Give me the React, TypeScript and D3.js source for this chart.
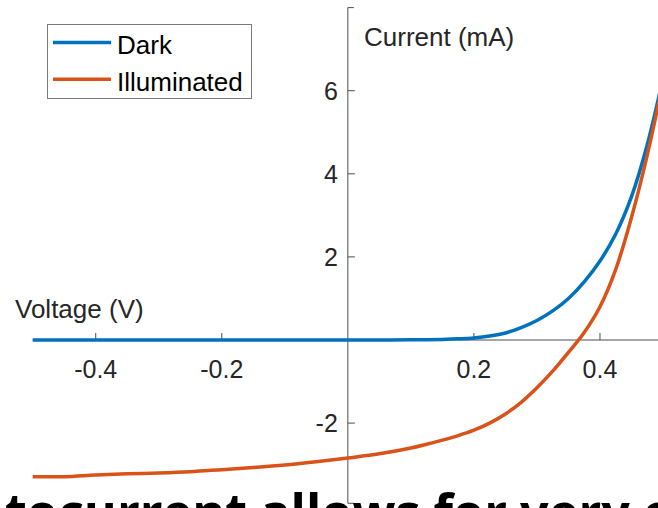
import { useEffect, useRef } from 'react'
import * as d3 from 'd3'

// voltage samples (V)
const voltage = [-0.5, -0.45, -0.4, -0.35, -0.3, -0.25, -0.2, -0.15, -0.1, -0.05, 0, 0.05, 0.1, 0.125, 0.15, 0.175, 0.2, 0.225, 0.25, 0.275, 0.3, 0.325, 0.35, 0.375, 0.4, 0.425, 0.45, 0.475, 0.5]
// current (mA)
const dark = [0, 0, 0, 0, 0, 0, 0, 0, 0, 0, 0, 0.002, 0.005, 0.008, 0.015, 0.028, 0.05, 0.095, 0.17, 0.3, 0.47, 0.7, 1.0, 1.4, 1.9, 2.55, 3.45, 4.7, 6.3]
const illuminated = [-3.29, -3.29, -3.25, -3.22, -3.2, -3.17, -3.12, -3.07, -3.01, -2.93, -2.84, -2.74, -2.6, -2.51, -2.41, -2.3, -2.17, -2.0, -1.78, -1.5, -1.15, -0.75, -0.3, 0.18, 0.8, 1.7, 2.95, 4.45, 6.2]

const xTicks = [-0.4, -0.2, 0.2, 0.4]
const yTicks = [-2, 2, 4, 6]
const seriesNames = ['Dark', 'Illuminated']
const colors = ['#0072BD', '#D95319']
const captionStart = 'tocurrent allows for very '
const captionEnd = 'c'

export default function App() {
  const ref = useRef<SVGSVGElement>(null)
  useEffect(() => {
    const width = 658
    const height = 508
    const svg = d3.select(ref.current)
    svg.selectAll('*').remove()
    svg.attr('viewBox', `0 0 ${width} ${height}`)

    const x = d3.scaleLinear().domain([-0.5, 0.5]).range([32.7, 663])
    const y = d3.scaleLinear().domain([-4, 8]).range([506.2, 7.6])
    const font = '"Liberation Sans", Arial, sans-serif'
    const ink = '#262626'
    const axisColor = '#4d4d4d'

    // axes through the origin
    const axes = svg.append('g')
    axes.append('line')
      .attr('x1', x(-0.5)).attr('x2', x(0.5))
      .attr('y1', y(0)).attr('y2', y(0))
      .attr('stroke', axisColor).attr('stroke-width', 1)
    axes.append('line')
      .attr('x1', x(0)).attr('x2', x(0))
      .attr('y1', y(8)).attr('y2', y(-3.93))
      .attr('stroke', axisColor).attr('stroke-width', 1)
    // end caps of the y axis
    ;[8, -3.93].forEach(v => {
      axes.append('line')
        .attr('x1', x(0)).attr('x2', x(0) + 6)
        .attr('y1', y(v)).attr('y2', y(v))
        .attr('stroke', axisColor)
    })

    xTicks.forEach(t => {
      axes.append('line')
        .attr('x1', x(t)).attr('x2', x(t))
        .attr('y1', y(0)).attr('y2', y(0) - 7)
        .attr('stroke', axisColor)
      axes.append('text')
        .attr('x', x(t)).attr('y', y(0) + 38)
        .attr('text-anchor', 'middle')
        .style('font-family', font).style('font-size', '25px')
        .attr('fill', ink)
        .text(String(t))
    })
    yTicks.forEach(t => {
      axes.append('line')
        .attr('x1', x(0)).attr('x2', x(0) + 7)
        .attr('y1', y(t)).attr('y2', y(t))
        .attr('stroke', axisColor)
      axes.append('text')
        .attr('x', x(0) - 10).attr('y', y(t) + 9)
        .attr('text-anchor', 'end')
        .style('font-family', font).style('font-size', '25px')
        .attr('fill', ink)
        .text(String(t))
    })

    svg.append('text')
      .attr('x', 15).attr('y', 318)
      .style('font-family', font).style('font-size', '26px')
      .attr('fill', ink)
      .text('Voltage (V)')
    svg.append('text')
      .attr('x', 364).attr('y', 46)
      .style('font-family', font).style('font-size', '26px')
      .attr('fill', ink)
      .text('Current (mA)')

    // curves
    const line = d3.line<number>()
      .x((_, i) => x(voltage[i]))
      .y(d => y(d))
      .curve(d3.curveCatmullRom.alpha(0.5))
    ;[dark, illuminated].forEach((s, i) => {
      svg.append('path')
        .attr('d', line(s))
        .attr('fill', 'none')
        .attr('stroke', colors[i])
        .attr('stroke-width', 3.5)
        .attr('stroke-linejoin', 'round')
    })

    // legend
    const lg = svg.append('g')
    lg.append('rect')
      .attr('x', 47.5).attr('y', 24.5).attr('width', 204).attr('height', 74)
      .attr('fill', '#fff').attr('stroke', '#7a7a7a').attr('stroke-width', 1)
    seriesNames.forEach((name, i) => {
      const ly = 42.5 + i * 36.8
      lg.append('line')
        .attr('x1', 53).attr('x2', 111).attr('y1', ly).attr('y2', ly)
        .attr('stroke', colors[i]).attr('stroke-width', 3.5)
      lg.append('text')
        .attr('x', 117).attr('y', ly + 11.5)
        .style('font-family', font).style('font-size', '26px')
        .attr('fill', '#000')
        .text(name)
    })

    // slide caption cut off at the bottom edge
    const cap = svg.append('text')
      .attr('x', 5)
      .style('font-family', '"Open Sans", sans-serif').style('font-weight', 700)
      .style('font-size', '50px')
      .attr('fill', '#000')
      .attr('xml:space', 'preserve')
    cap.append('tspan').text(captionStart)
    const natural = (cap.node() as SVGTextElement).getComputedTextLength() || 600
    const fs = 50 * 638 / natural
    cap.style('font-size', `${fs}px`)
      .attr('y', 503 + fs * 0.535)
    cap.append('tspan').text(captionEnd)
  }, [])

  return (
    <svg
      ref={ref}
      width={658}
      height={508}
      style={{ position: 'absolute', left: 0, top: 0, background: '#fff' }}
    />
  )
}
